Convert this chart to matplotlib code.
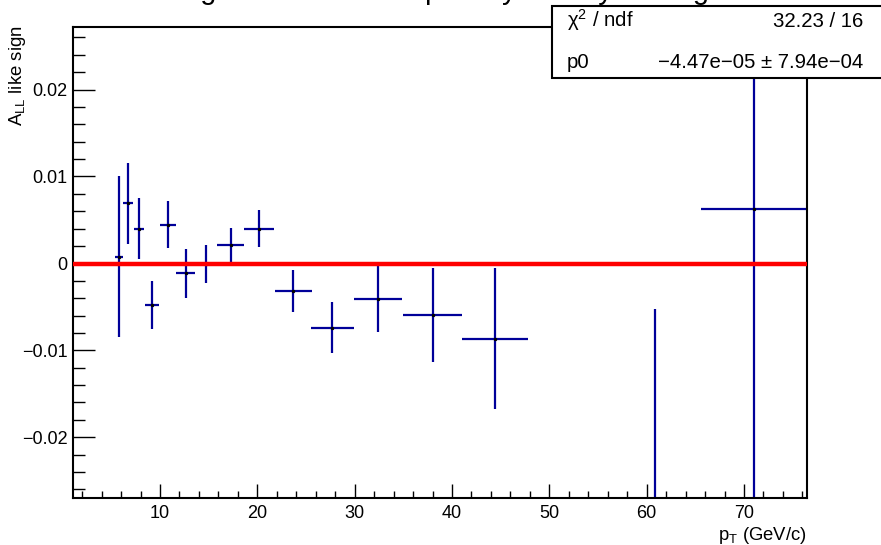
#!/usr/bin/env python3
"""
A_LL like-sign vs pT with a constant (p0) fit, ROOT-style canvas.
"""

import matplotlib
matplotlib.use('Agg')
import matplotlib.pyplot as plt
from matplotlib.patches import Rectangle
import numpy as np

# bin centres, half widths, asymmetry and its error
pt = [5.75, 6.72, 7.86, 9.20, 10.82, 12.63, 14.70, 17.25, 20.20,
      23.70, 27.70, 32.40, 38.00, 44.45, 60.85, 71.05]
pt_err = [0.40, 0.50, 0.52, 0.73, 0.82, 1.00, 1.10, 1.42, 1.55,
          1.90, 2.20, 2.50, 3.07, 3.40, 4.80, 5.45]
all_val = [0.00077, 0.0069, 0.0040, -0.0048, 0.00442, -0.00113, -0.00004, 0.00215, 0.0040,
           -0.0032, -0.0074, -0.00405, -0.00596, -0.00865, -0.0450, 0.0062]
all_err = [0.0093, 0.00466, 0.0035, 0.0028, 0.0027, 0.00283, 0.0022, 0.00195, 0.0021,
           0.0024, 0.0029, 0.0038, 0.0054, 0.0081, 0.0398, 0.0400]

# fit result
p0 = -4.47e-05
p0_err = 7.94e-04
chi2 = 32.23
ndf = 16

title = 'Longitudinal double spin asymmetry like sign'
y_ticks = [-0.02, -0.01, 0.0, 0.01, 0.02]
y_tick_labels = ['\u22120.02', '\u22120.01', '0', '0.01', '0.02']
x_ticks = [10, 20, 30, 40, 50, 60, 70]

plt.rcParams['font.family'] = ['Liberation Sans', 'DejaVu Sans']
plt.rcParams['mathtext.fontset'] = 'custom'
plt.rcParams['mathtext.rm'] = 'Liberation Sans'
plt.rcParams['mathtext.it'] = 'Liberation Sans:italic'

W, H = 881, 545
fig = plt.figure(figsize=(W / 100, H / 100), dpi=100)
ax = fig.add_axes([73 / W, (H - 498) / H, (807 - 73) / W, (498 - 27) / H])

xmin, xmax = 1.06, 76.47
ax.set_xlim(xmin, xmax)
ax.set_ylim(-0.0270, 0.0272)

# data points with error bars
ax.errorbar(pt, all_val, xerr=pt_err, yerr=all_err, fmt='none',
            ecolor='#000099', elinewidth=1.6, capsize=0, zorder=2)
ax.plot(pt, all_val, 's', ms=1.3, color='black', zorder=3)

# constant fit line
ax.plot([xmin, xmax], [p0, p0], color='#ff0000', lw=3.2, zorder=4,
        solid_capstyle='butt')

# axes styling
for sp in ax.spines.values():
    sp.set_linewidth(1.5)
ax.set_yticks(y_ticks, labels=y_tick_labels)
ax.set_yticks(np.arange(-0.026, 0.0271, 0.002), minor=True)
ax.set_xticks(x_ticks)
ax.set_xticks(np.arange(2, 77, 2), minor=True)
ax.tick_params(axis='both', which='both', direction='in', top=False, right=False,
               labelsize=13.0, width=1.0)
ax.tick_params(axis='y', which='major', length=16, pad=4)
ax.tick_params(axis='y', which='minor', length=8.5)
ax.tick_params(axis='x', which='major', length=10, pad=5)
ax.tick_params(axis='x', which='minor', length=5)

# axis titles
fig.text(18 / W, (H - 25) / H, r'A$_{\mathrm{LL}}$ like sign', rotation=90,
         ha='center', va='top', fontsize=13.4)
fig.text(807 / W, 5.0 / H, r'p$_{\mathrm{T}}$ (GeV/c)', ha='right', va='baseline',
         fontsize=13.3)

# title, clipped at the top of the canvas (as in the original)
fig.text(438 / W, 1 + 1.0 / H, title, ha='center', va='baseline', fontsize=20.8,
         zorder=1)

# stats box
box = Rectangle((552 / W, (H - 78) / H), (W + 10 - 552) / W, (78 - 5.7) / H,
                transform=fig.transFigure, facecolor='white', edgecolor='black',
                lw=1.5, zorder=5, clip_on=False)
fig.patches.append(box)
fs = 14.7
fig.text(567 / W, (H - 27) / H, '\u03c7$^{2}$ / ndf', ha='left', va='baseline',
         fontsize=fs, zorder=6)
fig.text(863 / W, (H - 27) / H, f'{chi2:.2f} / {ndf}', ha='right', va='baseline',
         fontsize=fs, zorder=6)
fig.text(567 / W, (H - 68) / H, 'p0', ha='left', va='baseline', fontsize=fs, zorder=6)
p0_txt = f'{p0:.2e} \u00b1 {p0_err:.2e}'.replace('-', '\u2212')
fig.text(863 / W, (H - 68) / H, p0_txt, ha='right', va='baseline', fontsize=fs, zorder=6)

fig.savefig('out.png', dpi=100)
